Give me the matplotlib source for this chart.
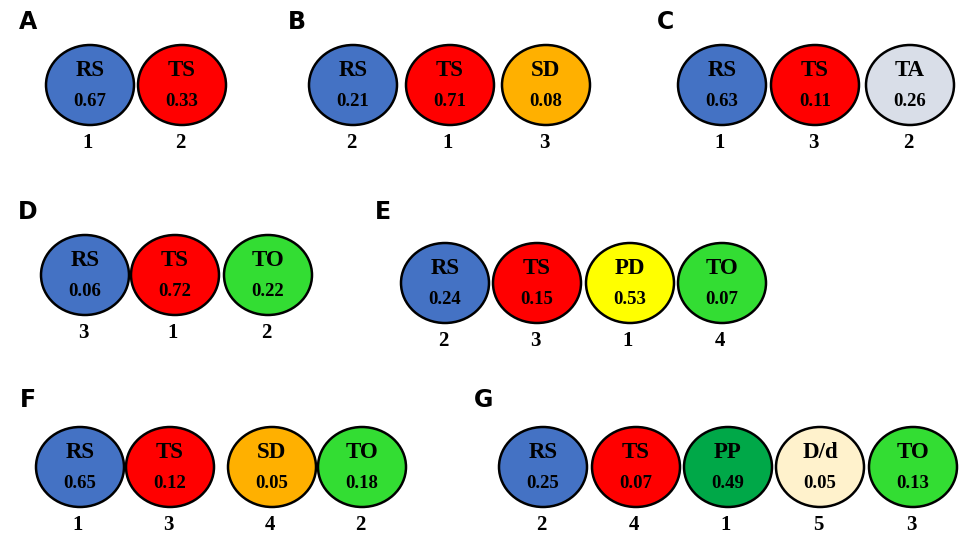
import matplotlib
matplotlib.use("Agg")
import matplotlib.pyplot as plt
from matplotlib.patches import Ellipse

panels = ["A", "B", "C", "D", "E", "F", "G"]
codes = [["RS", "TS"], ["RS", "TS", "SD"], ["RS", "TS", "TA"], ["RS", "TS", "TO"],
         ["RS", "TS", "PD", "TO"], ["RS", "TS", "SD", "TO"], ["RS", "TS", "PP", "D/d", "TO"]]
values = [[0.67, 0.33], [0.21, 0.71, 0.08], [0.63, 0.11, 0.26], [0.06, 0.72, 0.22],
          [0.24, 0.15, 0.53, 0.07], [0.65, 0.12, 0.05, 0.18], [0.25, 0.07, 0.49, 0.05, 0.13]]
ranks = [[1, 2], [2, 1, 3], [1, 3, 2], [3, 1, 2], [2, 3, 1, 4], [1, 3, 4, 2], [2, 4, 1, 5, 3]]

colors = {"RS": "#4472C4", "TS": "#FF0000", "SD": "#FFB000", "TA": "#D9DEE8",
          "TO": "#33DD33", "PD": "#FFFF00", "PP": "#00A848", "D/d": "#FFF2CC"}

# layout (pixels)
letter_pos = [(28, 22), (297, 22), (666, 22), (28, 212), (383, 212), (28, 400), (484, 400)]
xs = [[90, 182], [353, 450, 546], [722, 815, 910], [85, 175, 268],
      [445, 537, 630, 722], [80, 170, 272, 362], [543, 636, 728, 820, 913]]
ys = [85, 85, 85, 275, 283, 467, 467]

fig = plt.figure(figsize=(9.66, 5.48), dpi=100)
ax = fig.add_axes([0, 0, 1, 1])
ax.set_xlim(0, 966)
ax.set_ylim(548, 0)
ax.axis("off")

for p in range(len(panels)):
    ax.text(*letter_pos[p], panels[p], fontsize=17, fontweight="bold",
            family="DejaVu Sans", ha="center", va="center")
    y = ys[p]
    for x, c, v, r in zip(xs[p], codes[p], values[p], ranks[p]):
        ax.add_patch(Ellipse((x, y), 88, 80, facecolor=colors[c], edgecolor="black", lw=1.8))
        ax.text(x, y - 15, c, fontsize=16.5, fontweight="bold", family="Liberation Serif",
                ha="center", va="center")
        ax.text(x, y + 16, f"{v:.2f}", fontsize=13.5, fontweight="bold",
                family="Liberation Serif", ha="center", va="center")
        ax.text(x - 2, y + 58, str(r), fontsize=15, fontweight="bold",
                family="Liberation Serif", ha="center", va="center")

fig.savefig("out.png", dpi=100)
